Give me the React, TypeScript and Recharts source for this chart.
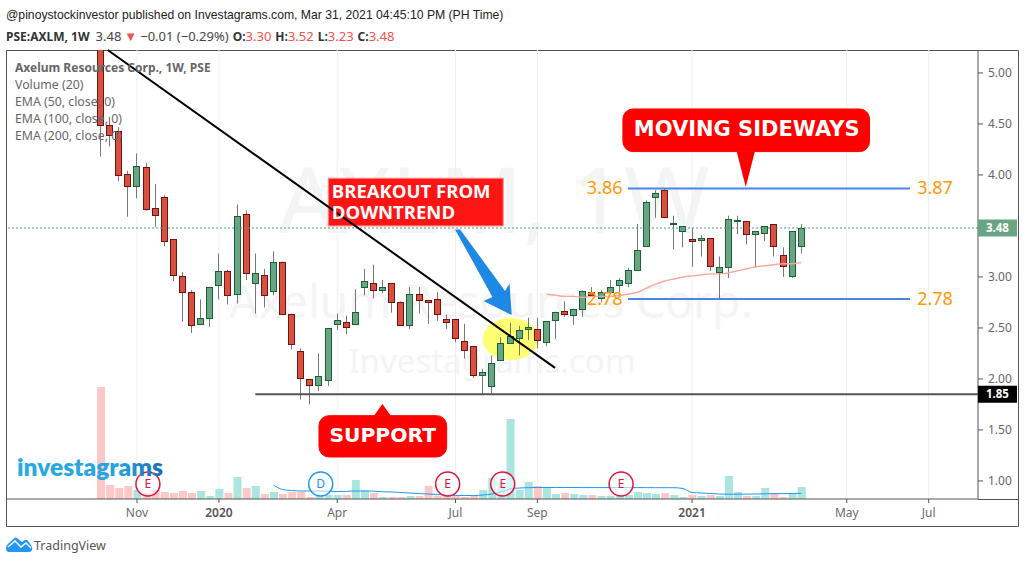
import React from "react";
import {
  ComposedChart, Bar, Line, XAxis, YAxis, CartesianGrid,
  ReferenceLine, ReferenceArea, ReferenceDot,
} from "recharts";

const opens = [5.5,4.49,4.43,4.01,3.89,4.08,3.68,3.78,3.37,3.01,2.85,2.54,2.60,2.92,3.06,2.83,3.62,2.94,3.02,2.86,3.15,2.64,2.27,2.00,1.94,1.99,2.54,2.56,2.54,2.90,2.94,2.87,2.94,2.75,2.53,2.83,2.77,2.78,2.59,2.59,2.37,2.32,2.04,1.93,2.19,2.35,2.40,2.49,2.49,2.36,2.58,2.67,2.63,2.69,2.85,2.79,2.85,2.92,2.94,3.07,3.30,3.78,3.85,3.515,3.45,3.37,3.36,3.38,3.05,3.10,3.545,3.55,3.42,3.43,3.52,3.22,3.01,3.30];
const highs = [5.6,4.57,4.47,4.04,4.21,4.12,3.91,3.80,3.37,3.05,2.87,2.78,2.90,3.23,3.07,3.71,3.65,3.23,3.08,3.25,3.15,2.64,2.30,2.00,2.25,2.50,2.64,2.62,2.88,3.08,3.12,2.97,2.94,2.76,2.90,2.90,2.77,2.85,2.63,2.59,2.54,2.32,2.10,2.23,2.41,2.55,2.52,2.60,2.60,2.57,2.66,2.76,2.69,2.87,2.90,2.87,2.97,2.99,3.09,3.52,3.75,3.85,3.87,3.60,3.50,3.48,3.41,3.38,3.20,3.60,3.60,3.55,3.45,3.50,3.52,3.29,3.45,3.52];
const lows = [4.18,4.28,3.94,3.59,3.77,3.65,3.49,3.30,2.96,2.56,2.45,2.53,2.51,2.78,2.73,2.74,2.97,2.64,2.70,2.82,2.64,2.29,1.80,1.75,1.88,1.93,2.48,2.44,2.53,2.82,2.79,2.84,2.65,2.53,2.49,2.64,2.54,2.57,2.49,2.36,2.20,2.01,1.84,1.86,2.19,2.35,2.23,2.38,2.30,2.32,2.39,2.61,2.53,2.61,2.81,2.75,2.85,2.85,2.90,3.06,3.30,3.58,3.58,3.27,3.29,3.10,3.20,3.06,2.79,2.99,3.42,3.32,3.09,3.35,3.20,3.00,2.99,3.23];
const closes = [4.49,4.39,4.00,3.89,4.09,3.67,3.61,3.35,3.02,2.85,2.53,2.60,2.90,3.06,2.82,3.60,3.04,3.04,2.82,3.15,2.64,2.34,2.01,1.94,2.03,2.50,2.58,2.51,2.66,2.96,2.87,2.90,2.75,2.53,2.83,2.77,2.75,2.64,2.56,2.40,2.28,2.04,2.07,2.16,2.35,2.42,2.48,2.51,2.38,2.57,2.66,2.64,2.69,2.86,2.82,2.85,2.90,2.97,3.07,3.26,3.73,3.82,3.59,3.525,3.50,3.35,3.38,3.11,3.10,3.57,3.555,3.42,3.45,3.50,3.30,3.11,3.45,3.48];
const volumes = [112,14,11,13,9,6,9,7,6,8,6,8,3,10,6,22,11,13,5,7,5,7,7,2,3,4,4,4,19,9,6,2,2,2,3,3,13,3,3,3,2,4,9,21,17,80,9,17,13,12,5,6,5,4,4,3,3,3,4,7,6,5,6,4,2,4,3,4,3,23,7,3,3,11,6,2,5,12];
const emaValues = [2.83,2.82,2.81,2.81,2.80,2.81,2.81,2.81,2.82,2.83,2.85,2.89,2.93,2.96,2.98,3.00,3.01,3.02,3.03,3.03,3.04,3.06,3.08,3.10,3.11,3.12,3.13,3.13,3.14];
const emaStart = 49;
const volMa = [14,9.5,8.5,8,8,8,7.8,7.5,7.6,8,8,7.8,7.2,7,6.5,6,5.5,5,4.5,4,3.5,3.5,3.5,4,5,7,10,11,11.3,11.5,11.5,11.5,11.5,11.5,11.4,11.4,11.4,11.4,11.4,11.4,11.4,11.4,11.3,11.3,11.3,10.5,6.5,6,5.5,5,4.8,4.8,4.9,5,5.2,5.3,5.4,5.5,5.7];
const volMaStart = 19;
const xTickIndex = [4,13,26,39,48,65,82,91];
const xTickText = ["Nov","2020","Apr","Jul","Sep","2021","May","Jul"];
const yTicks = [1,1.5,2,2.5,3,3.5,4,4.5,5];
const eventIndex = [5.2,24.19,38.14,44.19,57.2];
const eventLetter = ["E","D","E","E","E"];

const table = opens.map((o, i) => ({
  i,
  open: o,
  high: highs[i],
  low: lows[i],
  close: closes[i],
  range: [lows[i], highs[i]],
  vol: volumes[i],
  ema: i >= emaStart ? emaValues[i - emaStart] : null,
  vma: i >= volMaStart ? volMa[i - volMaStart] : null,
}));

const UP = "#69a583", UP_B = "#1b5e3a", DN = "#d8503f", DN_B = "#6e1410";
const X_DOMAIN = [-10.286, 96.42];

const Candle = (props: any) => {
  const { x, y, width, height, payload } = props;
  const { open, close, high, low } = payload;
  const py = (p: number) => y + (height * (high - p)) / (high - low);
  const cx = Math.round(x + width / 2 - 0.5) + 0.5;
  const up = close >= open;
  const top = Math.round(py(Math.max(open, close))) + 0.5;
  const bot = Math.round(py(Math.min(open, close))) + 0.5;
  return (
    <g>
      <line x1={cx} x2={cx} y1={y} y2={y + height} stroke="#777" strokeWidth={1} />
      <rect x={cx - 3} y={top} width={6} height={Math.max(bot - top, 1)} fill={up ? UP : DN} stroke={up ? UP_B : DN_B} strokeWidth={1} />
    </g>
  );
};

const VolBar = (props: any) => {
  const { x, y, width, height, payload } = props;
  return <rect x={x} y={y} width={width} height={height} fill={payload.close >= payload.open ? "#aae6df" : "#ffc8c8"} />;
};

const XTick = (props: any) => {
  const { x, y, index } = props;
  const t = xTickText[index];
  const year = t.length === 4;
  return <text x={x} y={y + 12} textAnchor="middle" fontFamily="'Noto Sans'" fontSize={12} fontWeight={year ? 600 : 400} fill={year ? "#555" : "#6a6a6a"}>{t}</text>;
};

const Callout = (fill: string, radius: number, stroke: string) => (p: any) => (
  <rect x={p.x} y={p.y} width={p.width} height={p.height} rx={radius} fill={fill} stroke={stroke} strokeWidth={1} />
);
const Down = (p: any) => <polygon points={`${p.x},${p.y} ${p.x + p.width},${p.y} ${p.x + p.width / 2},${p.y + p.height}`} fill="#ff0000" />;
const Up = (p: any) => <polygon points={`${p.x},${p.y + p.height} ${p.x + p.width},${p.y + p.height} ${p.x + p.width / 2},${p.y}`} fill="#ff0000" />;
const Ell = (p: any) => <ellipse cx={p.x + p.width / 2} cy={p.y + p.height / 2} rx={p.width / 2} ry={p.height / 2} fill="#ffff00" fillOpacity={0.55} />;
const arrowShape = [[0,0],[0.09,0],[0.882,0.72],[0.961,0.632],[1,1],[0.503,0.836],[0.66,0.79]];
const Arrow = (p: any) => <polygon points={arrowShape.map(([a,b]) => `${p.x + a * p.width},${p.y + b * p.height}`).join(" ")} fill="#1e88e5" />;

const Txt = (text: string, size: number, fill: string, family: string, weight: number, anchor = "middle") => (p: any) => (
  <text x={p.cx} y={p.cy} dy="0.36em" textAnchor={anchor as any} fontFamily={family} fontSize={size} fontWeight={weight} fill={fill}>{text}</text>
);
const Ev = (letter: string) => (p: any) => {
  const c = letter === "D" ? "#1e96f0" : "#e0143c";
  return (
    <g>
      <circle cx={p.cx} cy={p.cy} r={12} fill="#fff" fillOpacity={0.55} stroke={c} strokeWidth={1.5} />
      <text x={p.cx} y={p.cy} dy="0.36em" textAnchor="middle" fontFamily="'Noto Sans'" fontSize={12} fill={c}>{letter}</text>
    </g>
  );
};
const PriceTag = (text: string, bg: string) => (p: any) => (
  <g>
    <rect x={p.cx - 19.5} y={p.cy - 8.5} width={39} height={17} fill={bg} />
    <text x={p.cx} y={p.cy} dy="0.36em" textAnchor="middle" fontFamily="'Noto Sans'" fontSize={11.5} fontWeight={700} fill="#fff">{text}</text>
  </g>
);

const SANS = "'Noto Sans'";
const legend = ["Volume (20)", "EMA (50, close, 0)", "EMA (100, close, 0)", "EMA (200, close, 0)"];

export default function App() {
  return (
    <div style={{ position: "absolute", left: 0, top: 0, width: 1025, height: 563, overflow: "hidden", background: "#fff" }}>
      <svg width={1025} height={563} style={{ position: "absolute", left: 0, top: 0 }}>
        <g fill="#f3f5f4" fontFamily={SANS} textAnchor="middle">
          <text x={494} y={233} fontSize={92}>AXLM, 1W</text>
          <text x={491} y={318} fontSize={46}>Axelum Resources Corp.</text>
          <text x={492} y={373} fontSize={33}>Investagrams.com</text>
        </g>
        <path d="M6.5 526.5 V50.5 H1018.5 V526.5 Z M978 499.5 H1018.5" fill="none" stroke="#555" strokeWidth={1} />
      </svg>

      <div style={{ position: "absolute", left: 0, top: 0 }}>
        <ComposedChart width={1025} height={563} data={table} margin={{ top: 50, right: 6, bottom: 37, left: 7 }}>
          <CartesianGrid stroke="#efefef" strokeWidth={1} horizontalValues={yTicks} verticalValues={xTickIndex} />
          <XAxis dataKey="i" type="number" domain={X_DOMAIN} allowDataOverflow ticks={xTickIndex} height={27} interval={0}
            tick={<XTick />} tickSize={4} stroke="#555" />
          <XAxis xAxisId="vx" hide dataKey="i" type="number" domain={X_DOMAIN} allowDataOverflow height={0} />
          <YAxis yAxisId="p" orientation="right" type="number" domain={[0.823, 5.225]} allowDataOverflow ticks={yTicks} width={41} interval={0}
            tickFormatter={(v: number) => (v === 3.5 ? "" : v.toFixed(2))} tickSize={5} stroke="#555"
            tick={{ fontFamily: SANS, fontSize: 12, fill: "#666", textAnchor: "start", dx: 3 }} />
          <YAxis yAxisId="v" hide type="number" domain={[0, 449]} />

          <Bar xAxisId="vx" yAxisId="v" dataKey="vol" barSize={8} shape={<VolBar />} isAnimationActive={false} />
          <Line xAxisId="vx" yAxisId="v" dataKey="vma" stroke="#2196f3" strokeWidth={1} dot={false} isAnimationActive={false} type="monotone" />
          <Line yAxisId="p" dataKey="ema" stroke="#f8a8a0" strokeWidth={1.4} dot={false} isAnimationActive={false} type="monotone" />
          <Bar yAxisId="p" dataKey="range" barSize={7} shape={<Candle />} isAnimationActive={false} />

          <ReferenceLine yAxisId="p" y={3.48} stroke="#4f9b77" strokeWidth={1} strokeDasharray="2 2" />
          <ReferenceLine yAxisId="p" segment={[{ x: 0.78, y: 5.225 }, { x: 49.94, y: 2.108 }]} stroke="#000" strokeWidth={2} ifOverflow="visible" />
          <ReferenceLine yAxisId="p" segment={[{ x: 17, y: 1.85 }, { x: 96.42, y: 1.85 }]} stroke="#555" strokeWidth={2} ifOverflow="visible" />
          <ReferenceLine yAxisId="p" segment={[{ x: 57.95, y: 3.868 }, { x: 88.95, y: 3.868 }]} stroke="#4a86e0" strokeWidth={2} ifOverflow="visible" />
          <ReferenceLine yAxisId="p" segment={[{ x: 57.95, y: 2.784 }, { x: 88.95, y: 2.784 }]} stroke="#4a86e0" strokeWidth={2} ifOverflow="visible" />

          <ReferenceDot yAxisId="p" x={55.4} y={3.875} ifOverflow="visible" shape={Txt("3.86", 18, "#ff9800", SANS, 400)} />
          <ReferenceDot yAxisId="p" x={55.4} y={2.784} ifOverflow="visible" shape={Txt("2.78", 18, "#ff9800", SANS, 400)} />
          <ReferenceDot yAxisId="p" x={91.7} y={3.875} ifOverflow="visible" shape={Txt("3.87", 18, "#ff9800", SANS, 400)} />
          <ReferenceDot yAxisId="p" x={91.7} y={2.784} ifOverflow="visible" shape={Txt("2.78", 18, "#ff9800", SANS, 400)} />

          <ReferenceArea yAxisId="p" x1={41.99} x2={48.1} y1={2.186} y2={2.598} ifOverflow="visible" shape={Ell} />
          <ReferenceArea yAxisId="p" x1={38.95} x2={45.18} y1={2.627} y2={3.466} ifOverflow="visible" shape={Arrow} />

          <ReferenceArea yAxisId="p" x1={25.02} x2={44.25} y1={3.5} y2={3.968} ifOverflow="visible" shape={Callout("#ff1414", 0, "#ff9090")} />
          <ReferenceDot yAxisId="p" x={25.4} y={3.835} ifOverflow="visible" shape={Txt("BREAKOUT FROM", 18.5, "#fff", "'Open Sans'", 700, "start")} />
          <ReferenceDot yAxisId="p" x={25.4} y={3.63} ifOverflow="visible" shape={Txt("DOWNTREND", 18.5, "#fff", "'Open Sans'", 700, "start")} />

          <ReferenceArea yAxisId="p" x1={57.4} x2={84.5} y1={4.229} y2={4.647} ifOverflow="visible" shape={Callout("#ff0000", 10, "#ff0000")} />
          <ReferenceArea yAxisId="p" x1={69.9} x2={71.9} y1={3.882} y2={4.229} ifOverflow="visible" shape={Down} />
          <ReferenceDot yAxisId="p" x={71} y={4.46} ifOverflow="visible" shape={Txt("MOVING SIDEWAYS", 21, "#fff", "'DejaVu Sans'", 700)} />

          <ReferenceArea yAxisId="p" x1={24} x2={38.03} y1={1.235} y2={1.64} ifOverflow="visible" shape={Callout("#ff0000", 10, "#ff0000")} />
          <ReferenceArea yAxisId="p" x1={30.04} x2={31.9} y1={1.64} y2={1.755} ifOverflow="visible" shape={Up} />
          <ReferenceDot yAxisId="p" x={31} y={1.45} ifOverflow="visible" shape={Txt("SUPPORT", 20.3, "#fff", "'DejaVu Sans'", 700)} />

          {eventIndex.map((x, k) => (
            <ReferenceDot key={k} yAxisId="p" x={x} y={0.97} ifOverflow="visible" shape={Ev(eventLetter[k])} />
          ))}
          <ReferenceDot yAxisId="p" x={98.56} y={3.48} ifOverflow="visible" shape={PriceTag("3.48", UP)} />
          <ReferenceDot yAxisId="p" x={98.56} y={1.85} ifOverflow="visible" shape={PriceTag("1.85", "#000")} />
        </ComposedChart>
      </div>

      <svg width={1025} height={563} style={{ position: "absolute", left: 0, top: 0, pointerEvents: "none" }}>
        <defs>
          <linearGradient id="ig" x1="0" x2="1" y1="0" y2="0">
            <stop offset="0" stopColor="#2aaae2" />
            <stop offset="0.7" stopColor="#27a3dc" />
            <stop offset="1" stopColor="#1a6db5" />
          </linearGradient>
        </defs>
        <text x={6} y={19} fontFamily="'Liberation Sans'" fontSize={12.2} fill="#222">@pinoystockinvestor published on Investagrams.com, Mar 31, 2021 04:45:10 PM (PH Time)</text>
        <text x={6} y={41} fontFamily={SANS} fontSize={13} fill="#333">
          <tspan fontWeight={700} fontSize={12}>PSE:AXLM, 1W</tspan>
          <tspan dx={6} fill="#444">3.48</tspan>
          <tspan dx={3} fill="#ef5350">▼</tspan>
          <tspan dx={3} fill="#444">−0.01 (−0.29%)</tspan>
          <tspan dx={4} fontWeight={700} fontSize={12}>O:</tspan><tspan fill="#ef5350">3.30</tspan>
          <tspan dx={4} fontWeight={700} fontSize={12}>H:</tspan><tspan fill="#ef5350">3.52</tspan>
          <tspan dx={4} fontWeight={700} fontSize={12}>L:</tspan><tspan fill="#ef5350">3.23</tspan>
          <tspan dx={4} fontWeight={700} fontSize={12}>C:</tspan><tspan fill="#ef5350">3.48</tspan>
        </text>
        <text x={15} y={72} fontFamily={SANS} fontSize={12} fontWeight={700} fill="#666">Axelum Resources Corp., 1W, PSE</text>
        {legend.map((t, k) => (
          <text key={k} x={15} y={89 + k * 17} fontFamily={SANS} fontSize={12.3} fill="#666">{t}</text>
        ))}
        <text x={17} y={476} fontFamily="Lato" fontSize={24.5} fontWeight={800} fill="url(#ig)">investagrams</text>
        <path d="M6 548 Q6 545 9 543 L14 538.5 Q15.5 537 17 538 L22 542 L25 540 Q27 539 28 541 L31 545 Q33 548 32 550 Q31 552 29 552 L9 552 Q6 552 6 548Z" fill="#2196f3" />
        <path d="M8 547 L15 541 L21 547 L26 543 L31 548" fill="none" stroke="#fff" strokeWidth={1.5} />
        <text x={34} y={550} fontFamily={SANS} fontSize={12.5} fill="#555">TradingView</text>
      </svg>
    </div>
  );
}
